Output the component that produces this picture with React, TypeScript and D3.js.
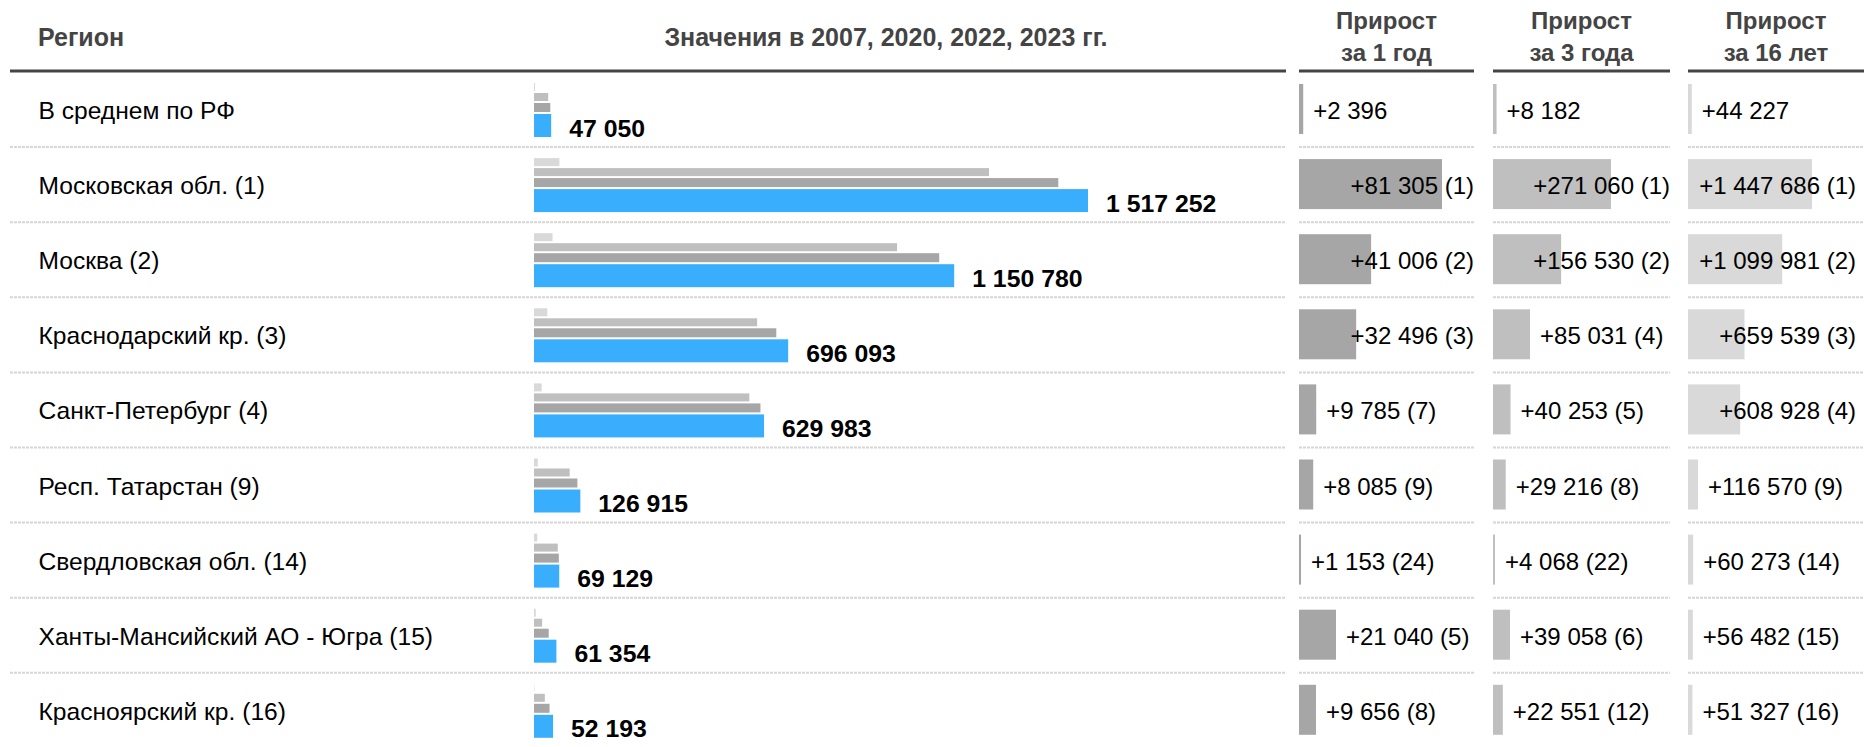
import { useEffect, useRef } from "react";
import * as d3 from "d3";

const regions = [
  "В среднем по РФ",
  "Московская обл. (1)",
  "Москва (2)",
  "Краснодарский кр. (3)",
  "Санкт-Петербург (4)",
  "Респ. Татарстан (9)",
  "Свердловская обл. (14)",
  "Ханты-Мансийский АО - Югра (15)",
  "Красноярский кр. (16)",
];

const v2007 = [2823, 69566, 50799, 36554, 21055, 10345, 8856, 4872, 866];
const v2020 = [38868, 1246192, 994250, 611062, 589730, 97699, 65061, 22296, 29642];
const v2022 = [44654, 1435947, 1109774, 663597, 620198, 118830, 67976, 40314, 42537];
const v2023 = [47050, 1517252, 1150780, 696093, 629983, 126915, 69129, 61354, 52193];

const inc1 = [2396, 81305, 41006, 32496, 9785, 8085, 1153, 21040, 9656];
const rank1 = [null, 1, 2, 3, 7, 9, 24, 5, 8];
const inc3 = [8182, 271060, 156530, 85031, 40253, 29216, 4068, 39058, 22551];
const rank3 = [null, 1, 2, 4, 5, 8, 22, 6, 12];
const inc16 = [44227, 1447686, 1099981, 659539, 608928, 116570, 60273, 56482, 51327];
const rank16 = [null, 1, 2, 3, 4, 9, 14, 15, 16];

const colTitles = [
  ["Прирост", "за 1 год"],
  ["Прирост", "за 3 года"],
  ["Прирост", "за 16 лет"],
];

const FONT = "'Liberation Sans', Arial, sans-serif";

const fmt = (n: number) => d3.format(",")(n).replace(/,/g, " ");

export default function App() {
  const svgRef = useRef<SVGSVGElement | null>(null);

  useEffect(() => {
    if (!svgRef.current) return;
    const W = 1864, H = 747;
    const svg = d3.select(svgRef.current);
    svg.selectAll("*").remove();
    svg.attr("width", W).attr("height", H).style("font-family", FONT);

    const rowTop0 = 72, rowH = 75.1;
    const rowTop = (i: number) => rowTop0 + rowH * i;
    const leftX0 = 10, leftX1 = 1286;
    const cols = [
      { x0: 1299, x1: 1474, tEnd: 1474, barMax: 143, vals: inc1, ranks: rank1, fill: "#a6a6a6" },
      { x0: 1493, x1: 1670, tEnd: 1670, barMax: 118, vals: inc3, ranks: rank3, fill: "#bfbfbf" },
      { x0: 1688, x1: 1864, tEnd: 1856, barMax: 124, vals: inc16, ranks: rank16, fill: "#d9d9d9" },
    ];

    // header
    const hdr = svg.append("g").attr("fill", "#444").attr("font-weight", 700);
    hdr.append("text").attr("x", 38).attr("y", 46).attr("font-size", 25).text("Регион");
    hdr.append("text").attr("x", 886).attr("y", 46).attr("text-anchor", "middle").attr("font-size", 25)
      .text("Значения в 2007, 2020, 2022, 2023 гг.");
    cols.forEach((c, i) => {
      const cx = (c.x0 + c.x1) / 2;
      hdr.append("text").attr("x", cx).attr("y", 29).attr("text-anchor", "middle")
        .attr("font-size", 24).text(colTitles[i][0]);
      hdr.append("text").attr("x", cx).attr("y", 61).attr("text-anchor", "middle")
        .attr("font-size", 24).text(colTitles[i][1]);
    });

    const lineG = svg.append("g").attr("stroke", "#444").attr("stroke-width", 3);
    lineG.append("line").attr("x1", leftX0).attr("x2", leftX1).attr("y1", 71).attr("y2", 71);
    cols.forEach((c) => {
      lineG.append("line").attr("x1", c.x0).attr("x2", c.x1).attr("y1", 71).attr("y2", 71);
    });

    // row separators
    const sepG = svg.append("g").attr("stroke", "#d6d6d6").attr("stroke-width", 2)
      .attr("stroke-dasharray", "3,1");
    for (let i = 1; i < regions.length; i++) {
      const y = rowTop(i);
      sepG.append("line").attr("x1", leftX0).attr("x2", leftX1).attr("y1", y).attr("y2", y);
      cols.forEach((c) => {
        sepG.append("line").attr("x1", c.x0).attr("x2", c.x1).attr("y1", y).attr("y2", y);
      });
    }

    // region labels
    svg.append("g").selectAll("text").data(regions).join("text")
      .attr("x", 38.5).attr("y", (_, i) => rowTop(i) + 47)
      .attr("font-size", 24.6).attr("fill", "#000").text((d) => d);

    // value bars
    const x = d3.scaleLinear().domain([0, d3.max(v2023)!]).range([534, 1088]);
    const series = [
      { vals: v2007, fill: "#d9d9d9", y: 11, h: 8 },
      { vals: v2020, fill: "#bfbfbf", y: 21, h: 8 },
      { vals: v2022, fill: "#a6a6a6", y: 31, h: 9 },
      { vals: v2023, fill: "#39aefd", y: 42, h: 23 },
    ];
    const barG = svg.append("g");
    series.forEach((s) => {
      barG.append("g").selectAll("rect").data(s.vals).join("rect")
        .attr("x", x(0)).attr("y", (_, i) => rowTop(i) + s.y)
        .attr("width", (d) => x(d) - x(0)).attr("height", s.h).attr("fill", s.fill);
    });
    svg.append("g").selectAll("text").data(v2023).join("text")
      .attr("x", (d) => x(d) + 18).attr("y", (_, i) => rowTop(i) + 64.5)
      .attr("font-size", 24.8).attr("font-weight", 700).attr("fill", "#000")
      .text((d) => fmt(d));

    // increment columns
    cols.forEach((c) => {
      const xs = d3.scaleLinear().domain([0, d3.max(c.vals)!]).range([0, c.barMax]);
      const g = svg.append("g");
      c.vals.forEach((v, i) => {
        const top = rowTop(i);
        const w = Math.max(2, xs(v));
        g.append("rect").attr("x", c.x0).attr("y", top + 12).attr("width", w).attr("height", 50)
          .attr("fill", c.fill);
        const label = "+" + fmt(v) + (c.ranks[i] != null ? ` (${c.ranks[i]})` : "");
        const t = g.append("text").attr("x", c.x0 + w + 10).attr("y", top + 47)
          .attr("font-size", 24).attr("fill", "#000").text(label);
        const len = (t.node() as SVGTextElement).getComputedTextLength();
        if (c.x0 + w + 10 + len > c.tEnd) {
          t.attr("x", c.tEnd).attr("text-anchor", "end");
        }
      });
    });
  }, []);

  return <svg ref={svgRef} style={{ position: "absolute", left: 0, top: 0, display: "block" }} />;
}
